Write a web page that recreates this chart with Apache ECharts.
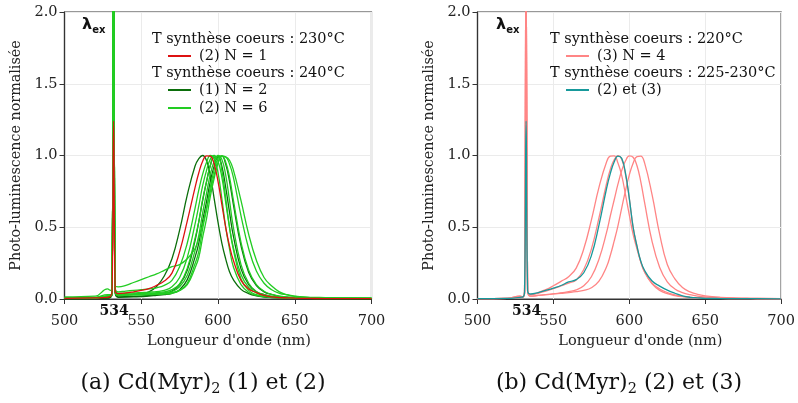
<!DOCTYPE html>
<html>
<head>
<meta charset="utf-8">
<script src="https://cdn.jsdelivr.net/npm/echarts@6/dist/echarts.min.js"></script>
<style>html,body{margin:0;padding:0;background:#fff}#c{width:798px;height:403px}</style>
</head>
<body>
<div id="c"></div>
<script>
// ---- data ----
const wavelength = [500, 520, 528, 530, 531, 532, 533, 535, 540, 545, 550, 555, 560, 565, 570, 575, 580, 585, 587.5, 590, 592.5, 595, 597.5, 600, 602.5, 605, 607.5, 610, 615, 620, 625, 630, 635, 640, 645, 650, 660, 670, 680, 700];
const xTicks = [500, 550, 600, 650, 700];
const yTicks = [0, 0.5, 1.0, 1.5, 2.0];
const excitationLabel = "534";
const excitationPos = 532.3;

// panel (a)
const a_N1_230 = [0.005, 0.008, 0.012, 0.02, 0.05, 1.24, 0.06, 0.038, 0.042, 0.05, 0.06, 0.072, 0.095, 0.125, 0.18, 0.33, 0.545, 0.775, 0.88, 0.96, 0.998, 0.995, 0.94, 0.82, 0.66, 0.50, 0.37, 0.27, 0.13, 0.07, 0.045, 0.025, 0.015, 0.01, 0.008, 0.006, 0.004, 0.003, 0.003, 0.002];
const a_N2_240_1 = [0.003, 0.005, 0.01, 0.015, 0.05, 2.3, 0.06, 0.025, 0.028, 0.032, 0.04, 0.05, 0.087, 0.16, 0.28, 0.48, 0.725, 0.925, 0.978, 1.0, 0.965, 0.862, 0.70, 0.535, 0.39, 0.28, 0.19, 0.135, 0.067, 0.038, 0.022, 0.014, 0.01, 0.008, 0.006, 0.005, 0.003, 0.002, 0.002, 0.001];
const a_N2_240_2 = [0.003, 0.004, 0.008, 0.012, 0.04, 2.2, 0.05, 0.015, 0.016, 0.018, 0.02, 0.025, 0.03, 0.04, 0.055, 0.1, 0.2, 0.405, 0.54, 0.685, 0.816, 0.93, 0.989, 0.99, 0.925, 0.78, 0.605, 0.44, 0.21, 0.1, 0.05, 0.03, 0.017, 0.011, 0.008, 0.006, 0.004, 0.003, 0.002, 0.002];
const a_N2_240_3 = [0.002, 0.003, 0.006, 0.01, 0.04, 2.2, 0.05, 0.012, 0.013, 0.015, 0.017, 0.02, 0.025, 0.03, 0.04, 0.065, 0.135, 0.29, 0.39, 0.545, 0.677, 0.82, 0.926, 0.99, 0.995, 0.94, 0.82, 0.66, 0.37, 0.185, 0.094, 0.05, 0.031, 0.018, 0.013, 0.009, 0.005, 0.003, 0.002, 0.002];
const a_N6_240_1 = [0.01, 0.012, 0.03, 0.03, 0.06, 2.4, 0.08, 0.05, 0.055, 0.06, 0.065, 0.07, 0.078, 0.095, 0.13, 0.225, 0.39, 0.63, 0.76, 0.87, 0.951, 1.0, 0.98, 0.88, 0.70, 0.5, 0.35, 0.225, 0.1, 0.047, 0.026, 0.017, 0.012, 0.009, 0.008, 0.007, 0.006, 0.005, 0.005, 0.005];
const a_N6_240_2 = [0.008, 0.01, 0.02, 0.025, 0.05, 2.4, 0.07, 0.04, 0.04, 0.042, 0.045, 0.048, 0.052, 0.06, 0.085, 0.15, 0.29, 0.52, 0.65, 0.79, 0.895, 0.975, 1.0, 0.96, 0.85, 0.675, 0.5, 0.36, 0.17, 0.08, 0.043, 0.025, 0.016, 0.012, 0.009, 0.008, 0.006, 0.005, 0.005, 0.005];
const a_N6_240_3 = [0.006, 0.008, 0.02, 0.02, 0.05, 2.4, 0.06, 0.03, 0.032, 0.035, 0.038, 0.042, 0.045, 0.05, 0.065, 0.105, 0.215, 0.42, 0.54, 0.695, 0.816, 0.93, 0.989, 0.99, 0.895, 0.705, 0.5, 0.345, 0.14, 0.06, 0.03, 0.018, 0.013, 0.01, 0.008, 0.007, 0.006, 0.005, 0.005, 0.005];
const a_N6_240_4 = [0.006, 0.008, 0.02, 0.02, 0.05, 2.4, 0.06, 0.03, 0.03, 0.032, 0.034, 0.036, 0.038, 0.042, 0.052, 0.085, 0.165, 0.335, 0.444, 0.6, 0.735, 0.87, 0.958, 1.0, 0.973, 0.865, 0.685, 0.5, 0.24, 0.11, 0.052, 0.03, 0.02, 0.014, 0.01, 0.008, 0.006, 0.005, 0.005, 0.005];
const a_N6_240_5 = [0.005, 0.007, 0.018, 0.02, 0.05, 2.4, 0.06, 0.025, 0.026, 0.027, 0.028, 0.03, 0.032, 0.035, 0.04, 0.06, 0.11, 0.245, 0.332, 0.49, 0.623, 0.78, 0.9, 0.98, 0.998, 0.955, 0.85, 0.69, 0.395, 0.2, 0.1, 0.054, 0.032, 0.02, 0.014, 0.01, 0.007, 0.005, 0.005, 0.005];
const a_N6_240_6 = [0.005, 0.007, 0.02, 0.02, 0.05, 2.4, 0.06, 0.03, 0.03, 0.032, 0.034, 0.036, 0.038, 0.04, 0.045, 0.06, 0.1, 0.215, 0.291, 0.43, 0.558, 0.715, 0.841, 0.945, 0.995, 0.99, 0.94, 0.85, 0.58, 0.35, 0.195, 0.11, 0.064, 0.04, 0.028, 0.018, 0.01, 0.007, 0.006, 0.005];
const a_N6_240_7 = [0.015, 0.02, 0.07, 0.06, 0.08, 2.4, 0.09, 0.085, 0.095, 0.115, 0.135, 0.155, 0.175, 0.2, 0.225, 0.24, 0.28, 0.35, 0.425, 0.52, 0.63, 0.75, 0.865, 0.95, 0.995, 0.99, 0.967, 0.9, 0.685, 0.45, 0.27, 0.15, 0.09, 0.05, 0.03, 0.02, 0.012, 0.01, 0.008, 0.006];

// panel (b)
const b_N4_220_1 = [0.003, 0.005, 0.02, 0.015, 0.05, 2.5, 0.06, 0.03, 0.045, 0.065, 0.092, 0.123, 0.155, 0.215, 0.35, 0.55, 0.778, 0.955, 0.995, 0.997, 0.947, 0.86, 0.725, 0.585, 0.45, 0.35, 0.26, 0.19, 0.105, 0.06, 0.037, 0.024, 0.016, 0.012, 0.009, 0.007, 0.004, 0.003, 0.002, 0.001];
const b_N4_220_2 = [0.003, 0.005, 0.02, 0.015, 0.05, 2.5, 0.06, 0.03, 0.04, 0.055, 0.072, 0.091, 0.111, 0.133, 0.205, 0.348, 0.565, 0.805, 0.905, 0.97, 0.999, 0.973, 0.865, 0.70, 0.5, 0.37, 0.26, 0.19, 0.11, 0.07, 0.045, 0.028, 0.018, 0.012, 0.008, 0.006, 0.004, 0.003, 0.002, 0.001];
const b_N4_220_3 = [0.002, 0.004, 0.012, 0.015, 0.05, 2.5, 0.06, 0.02, 0.025, 0.03, 0.036, 0.043, 0.052, 0.063, 0.092, 0.155, 0.277, 0.464, 0.58, 0.69, 0.80, 0.895, 0.963, 0.997, 0.988, 0.93, 0.82, 0.675, 0.40, 0.22, 0.12, 0.07, 0.045, 0.03, 0.02, 0.014, 0.008, 0.005, 0.004, 0.003];
const b_N4_220_4 = [0.002, 0.004, 0.012, 0.015, 0.05, 2.5, 0.06, 0.02, 0.025, 0.03, 0.035, 0.04, 0.045, 0.051, 0.06, 0.078, 0.124, 0.225, 0.305, 0.403, 0.51, 0.635, 0.757, 0.865, 0.946, 0.992, 0.995, 0.95, 0.725, 0.45, 0.24, 0.14, 0.08, 0.05, 0.032, 0.022, 0.012, 0.007, 0.005, 0.003];
const b_2et3_225 = [0.002, 0.004, 0.012, 0.015, 0.05, 1.24, 0.06, 0.035, 0.045, 0.06, 0.076, 0.094, 0.119, 0.135, 0.183, 0.302, 0.515, 0.77, 0.875, 0.955, 0.996, 0.98, 0.875, 0.70, 0.5, 0.37, 0.265, 0.2, 0.125, 0.09, 0.062, 0.04, 0.022, 0.012, 0.008, 0.005, 0.003, 0.002, 0.002, 0.001];

const C_RED = '#dd1111', C_DG = '#0b6e0b', C_LG = '#22cc22', C_PINK = '#ff8585', C_TEAL = '#17999b';
const F = 'DejaVu Serif';

function line(name, color, ys, gi) {
  return {
    type: 'line', name: name, xAxisIndex: gi, yAxisIndex: gi,
    data: wavelength.map((x, i) => [x, ys[i]]),
    color: color, showSymbol: false, symbol: 'none', smooth: 0.45,
    lineStyle: { width: 1.3, color: color }, clip: true, silent: true
  };
}

const series = [
  line('(1) N = 2', C_DG, a_N2_240_1, 0),
  line('(1) N = 2', C_DG, a_N2_240_2, 0),
  line('(1) N = 2', C_DG, a_N2_240_3, 0),
  line('(2) N = 6', C_LG, a_N6_240_1, 0),
  line('(2) N = 6', C_LG, a_N6_240_2, 0),
  line('(2) N = 6', C_LG, a_N6_240_3, 0),
  line('(2) N = 6', C_LG, a_N6_240_4, 0),
  line('(2) N = 6', C_LG, a_N6_240_5, 0),
  line('(2) N = 6', C_LG, a_N6_240_6, 0),
  line('(2) N = 6', C_LG, a_N6_240_7, 0),
  line('(2) N = 1', C_RED, a_N1_230, 0),
  line('(3) N = 4', C_PINK, b_N4_220_1, 1),
  line('(3) N = 4', C_PINK, b_N4_220_2, 1),
  line('(3) N = 4', C_PINK, b_N4_220_3, 1),
  line('(3) N = 4', C_PINK, b_N4_220_4, 1),
  line('(2) et (3)', C_TEAL, b_2et3_225, 1)
];

function xAx(gi) {
  return {
    type: 'value', gridIndex: gi, min: xTicks[0], max: xTicks[xTicks.length - 1], interval: 50,
    axisLine: { show: true, lineStyle: { color: '#333', width: 1.2 } },
    axisTick: { show: true, length: 5, lineStyle: { color: '#333' } },
    axisLabel: { color: '#222', fontFamily: F, fontSize: 14.5, margin: 15 },
    splitLine: { show: true, lineStyle: { color: '#ebebeb', width: 1 } },
    name: "Longueur d'onde (nm)", nameLocation: 'middle', nameGap: 32,
    nameTextStyle: { fontFamily: F, fontSize: 14.5, color: '#222', padding: [0, 0, 0, 22] }
  };
}
function yAx(gi) {
  return {
    type: 'value', gridIndex: gi, min: yTicks[0], max: yTicks[yTicks.length - 1], interval: 0.5,
    axisLine: { show: true, lineStyle: { color: '#333', width: 1.2 } },
    axisTick: { show: true, length: 5, lineStyle: { color: '#333' } },
    axisLabel: { color: '#222', fontFamily: F, fontSize: 14.5, margin: 7, formatter: v => v.toFixed(1) },
    splitLine: { show: true, lineStyle: { color: '#ebebeb', width: 1 } },
    name: 'Photo-luminescence normalisée', nameLocation: 'middle', nameGap: 41, nameRotate: 90,
    nameTextStyle: { fontFamily: F, fontSize: 14.3, color: '#222' }
  };
}

const legendCommon = {
  orient: 'horizontal', padding: 0, icon: 'rect', itemWidth: 23, itemHeight: 2, selectedMode: false,
  textStyle: { fontFamily: F, fontSize: 14.5, color: '#111', lineHeight: 16, padding: [0, 0, 0, 3] }
};

const chart = echarts.init(document.getElementById('c'), null, { renderer: 'canvas' });
chart.setOption({
  animation: false,
  grid: [
    { left: 64.5, top: 12, width: 307, height: 287, show: true, borderColor: '#333', borderWidth: 1.2 },
    { left: 477.5, top: 12, width: 306.5, height: 287, show: true, borderColor: '#333', borderWidth: 1.2 }
  ],
  xAxis: [xAx(0), xAx(1)],
  yAxis: [yAx(0), yAx(1)],
  legend: [
    Object.assign({ data: ['(2) N = 1'], left: 168, top: 48 }, legendCommon),
    Object.assign({ data: ['(1) N = 2'], left: 168, top: 82 }, legendCommon),
    Object.assign({ data: ['(2) N = 6'], left: 168, top: 100 }, legendCommon),
    Object.assign({ data: ['(3) N = 4'], left: 566, top: 48 }, legendCommon),
    Object.assign({ data: ['(2) et (3)'], left: 566, top: 82 }, legendCommon)
  ],
  series: series
});

const pA = chart.convertToPixel({ xAxisIndex: 0, yAxisIndex: 0 }, [excitationPos, 0]);
const pB = chart.convertToPixel({ xAxisIndex: 1, yAxisIndex: 1 }, [excitationPos, 0]);
const lamTop = chart.convertToPixel({ xAxisIndex: 0, yAxisIndex: 0 }, [500, 2])[1];

function txt(x, y, s, size, align) {
  return { type: 'text', x: x, y: y, z: 100, style: { text: s, fontFamily: F, fontSize: size, fill: '#111', align: align || 'left', verticalAlign: 'middle' } };
}
function lam(x, y) {
  return { type: 'text', x: x, y: y, z: 100, style: {
    text: '{l|λ}{e|ex}', align: 'left', verticalAlign: 'middle',
    rich: {
      l: { fontFamily: 'DejaVu Sans', fontWeight: 'bold', fontSize: 16, lineHeight: 20, fill: '#111' },
      e: { fontFamily: 'DejaVu Sans', fontWeight: 'bold', fontSize: 10, lineHeight: 11, verticalAlign: 'bottom', fill: '#111' }
    } } };
}
function caption(x, y, tag, rest) {
  return { type: 'text', x: x, y: y, z: 100, style: {
    text: '{a|' + tag + ' Cd(Myr)}{s|2}{a| ' + rest + '}', align: 'center', verticalAlign: 'middle',
    rich: {
      a: { fontFamily: F, fontSize: 22, lineHeight: 28, fill: '#111' },
      s: { fontFamily: F, fontSize: 14.5, lineHeight: 17, verticalAlign: 'bottom', fill: '#111' }
    } } };
}

chart.setOption({
  graphic: [
    txt(152, 39, 'T synthèse coeurs : 230°C', 14.5),
    txt(152, 73, 'T synthèse coeurs : 240°C', 14.5),
    txt(550, 39, 'T synthèse coeurs : 220°C', 14.5),
    txt(550, 73, 'T synthèse coeurs : 225-230°C', 14.5),
    { type: 'text', x: pA[0], y: 311, z: 100, style: { text: excitationLabel, fontFamily: F, fontWeight: 'bold', fontSize: 14, fill: '#111', align: 'center', verticalAlign: 'middle' } },
    { type: 'text', x: pB[0], y: 311, z: 100, style: { text: excitationLabel, fontFamily: F, fontWeight: 'bold', fontSize: 14, fill: '#111', align: 'center', verticalAlign: 'middle' } },
    lam(82, lamTop + 13),
    lam(496, lamTop + 13),
    caption(203, 383, '(a)', '(1) et (2)'),
    caption(619, 383, '(b)', '(2) et (3)')
  ]
});
</script>
</body>
</html>
